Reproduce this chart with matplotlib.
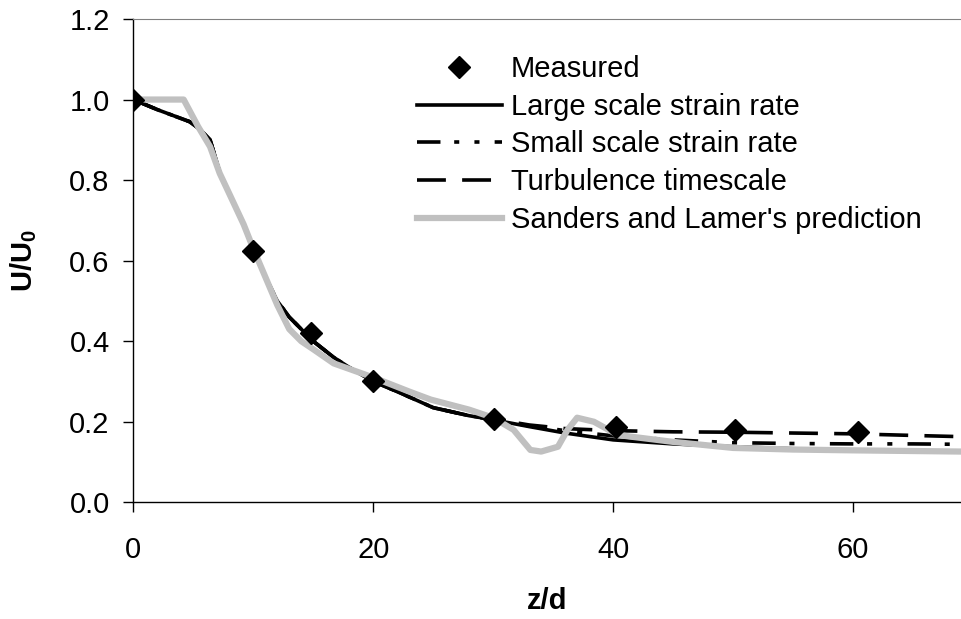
import matplotlib
matplotlib.use("Agg")
import matplotlib.pyplot as plt

plt.rcParams['font.family'] = ['Liberation Sans', 'DejaVu Sans']
plt.rcParams['mathtext.fontset'] = 'custom'
plt.rcParams['mathtext.rm'] = 'Liberation Sans'
plt.rcParams['mathtext.bf'] = 'Liberation Sans:bold'

# measured centreline velocity
meas_z = [0, 10, 14.8, 20, 30.1, 40.2, 50.2, 60.4]
meas_u = [1.0, 0.623, 0.421, 0.30, 0.207, 0.188, 0.180, 0.174]

# model: large scale strain rate
large_z = [0, 2, 4.7, 5.6, 6.4, 7.2, 8.1, 9.2, 10, 11, 12, 13, 14, 15, 16.7, 18, 20,
           22, 25, 28, 30, 33, 36, 40, 45, 50, 55, 60, 65, 69]
large_u = [1.0, 0.975, 0.945, 0.925, 0.90, 0.82, 0.76, 0.69, 0.625, 0.56, 0.50, 0.46,
           0.43, 0.40, 0.36, 0.335, 0.30, 0.275, 0.235, 0.215, 0.205, 0.188, 0.172,
           0.155, 0.145, 0.138, 0.133, 0.130, 0.128, 0.127]

# model: small scale strain rate
small_z = [0, 2, 4.7, 5.6, 6.4, 7.2, 8.1, 9.2, 10, 11, 12, 13, 14, 15, 16.7, 18, 20,
           22, 25, 28, 30, 33, 36, 40, 45, 50, 55, 60, 65, 69]
small_u = [1.0, 0.975, 0.945, 0.925, 0.90, 0.82, 0.76, 0.69, 0.625, 0.56, 0.50, 0.46,
           0.43, 0.40, 0.36, 0.335, 0.30, 0.275, 0.235, 0.215, 0.205, 0.19, 0.178,
           0.165, 0.155, 0.148, 0.146, 0.145, 0.145, 0.144]

# model: turbulence timescale
turb_z = [0, 2, 4.7, 5.6, 6.4, 7.2, 8.1, 9.2, 10, 11, 12, 13, 14, 15, 16.7, 18, 20,
          22, 25, 28, 30, 33, 36, 40, 45, 50, 55, 60, 65, 69]
turb_u = [1.0, 0.975, 0.945, 0.925, 0.90, 0.82, 0.76, 0.69, 0.625, 0.56, 0.50, 0.46,
          0.43, 0.40, 0.36, 0.335, 0.30, 0.275, 0.235, 0.215, 0.207, 0.192, 0.183,
          0.178, 0.175, 0.174, 0.172, 0.170, 0.166, 0.163]

# Sanders and Lamer's prediction
sl_z = [0, 4.2, 5.4, 6.4, 7.2, 8.1, 9.2, 10, 11, 12, 13, 14, 15, 16.7, 20, 23, 24.8,
        28, 30, 31.7, 33.1, 34, 35.4, 36.2, 37, 38.4, 40.4, 45, 50, 55, 60, 69]
sl_u = [1.0, 1.0, 0.933, 0.883, 0.817, 0.76, 0.69, 0.63, 0.56, 0.49, 0.43, 0.40, 0.38,
        0.345, 0.31, 0.275, 0.255, 0.23, 0.21, 0.18, 0.13, 0.126, 0.138, 0.18, 0.21,
        0.20, 0.167, 0.15, 0.135, 0.131, 0.129, 0.126]

fig = plt.figure(figsize=(9.61, 6.19), dpi=100)
ax = fig.add_axes([133.3 / 961, 1 - 502.3 / 619, 1 - 133.3 / 961, (502.3 - 19) / 619])

l_large, = ax.plot(large_z, large_u, color='black', lw=2.6, zorder=3,
                   label='Large scale strain rate')
l_small, = ax.plot(small_z, small_u, color='black', lw=2.6, zorder=3,
                   dashes=(6.5, 3.8, 1.4, 4.2, 1.4, 4.2), label='Small scale strain rate')
l_turb, = ax.plot(turb_z, turb_u, color='black', lw=2.6, zorder=3,
                  dashes=(8, 4.5), label='Turbulence timescale')
l_sl, = ax.plot(sl_z, sl_u, color='#c0c0c0', lw=4.5, zorder=4,
                label="Sanders and Lamer's prediction")
l_meas, = ax.plot(meas_z, meas_u, 'D', color='black', markersize=11, zorder=5,
                  label='Measured')

ax.set_xlim(0, 69)
ax.set_ylim(0, 1.2)
ax.set_xticks([0, 20, 40, 60])
ax.set_yticks([0, 0.2, 0.4, 0.6, 0.8, 1.0, 1.2])
ax.set_yticklabels(['0.0', '0.2', '0.4', '0.6', '0.8', '1.0', '1.2'])
ax.tick_params(axis='both', direction='out', length=7, width=1, labelsize=21)
ax.tick_params(axis='x', pad=17)
ax.tick_params(axis='y', pad=10)

ax.spines['right'].set_visible(False)
ax.spines['top'].set_color('#808080')
ax.spines['top'].set_linewidth(0.8)
ax.spines['left'].set_linewidth(1)
ax.spines['bottom'].set_linewidth(1)

ax.set_xlabel('z/d', fontsize=21, fontweight='bold', labelpad=17)
ax.set_ylabel(r'U/U$_\mathbf{0}$', fontsize=21, fontweight='bold', labelpad=22)

ax.legend(handles=[l_meas, l_large, l_small, l_turb, l_sl], loc='upper left',
          bbox_to_anchor=(0.343, 0.925), frameon=False, fontsize=21,
          handlelength=2.9, handletextpad=0.3, labelspacing=0.33, borderpad=0,
          borderaxespad=0)

fig.savefig('out.png', dpi=100)
